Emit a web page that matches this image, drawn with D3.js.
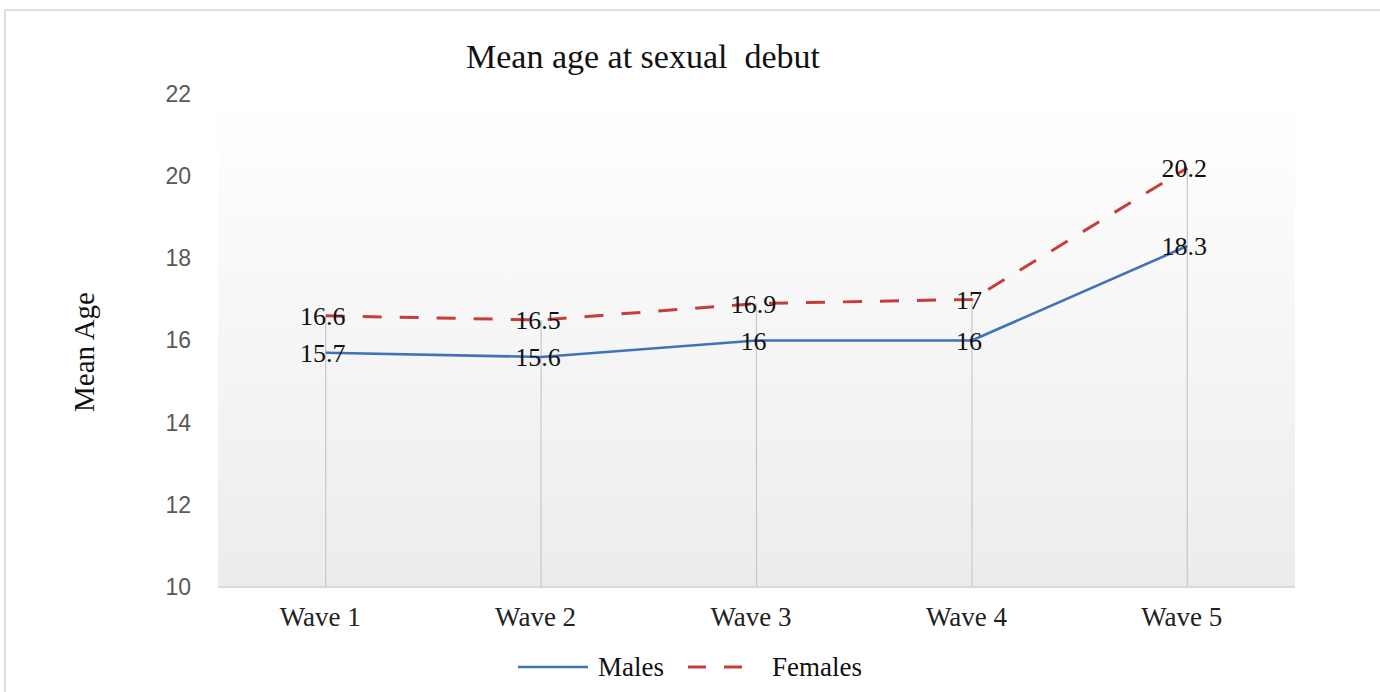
<!DOCTYPE html>
<html>
<head>
<meta charset="utf-8">
<script src="https://cdn.jsdelivr.net/npm/d3@7"></script>
<style>
  body { margin: 0; background: #fff; }
  svg { display: block; }
</style>
</head>
<body>
<div id="container"></div>
<script>
const waves = ['Wave 1', 'Wave 2', 'Wave 3', 'Wave 4', 'Wave 5'];
const males = [15.7, 15.6, 16, 16, 18.3];
const females = [16.6, 16.5, 16.9, 17, 20.2];
const yTicks = [10, 12, 14, 16, 18, 20, 22];

const width = 1380;
const height = 692;
const serif = '"Liberation Serif", "DejaVu Serif", serif';

const svg = d3.select('#container')
              .append('svg')
              .attr('width', width)
              .attr('height', height);

// outer frame
svg.append('rect')
   .attr('x', 5).attr('y', 10)
   .attr('width', width).attr('height', height)
   .attr('fill', 'none')
   .attr('stroke', '#d4d4d4')
   .attr('stroke-width', 1.5);

const xScale = d3.scalePoint()
                 .domain(waves)
                 .range([218, 1295])
                 .padding(0.5);

const yScale = d3.scaleLinear()
                 .domain([10, 22])
                 .range([587, 94]);

// plot background gradient
const grad = svg.append('defs').append('linearGradient')
                .attr('id', 'bg')
                .attr('x1', 0).attr('y1', 0).attr('x2', 0).attr('y2', 1);
grad.append('stop').attr('offset', '0%').attr('stop-color', '#ffffff');
grad.append('stop').attr('offset', '100%').attr('stop-color', '#ececec');

svg.append('rect')
   .attr('x', 218)
   .attr('y', yScale(22))
   .attr('width', 1295 - 218)
   .attr('height', yScale(10) - yScale(22))
   .attr('fill', 'url(#bg)');

// title
svg.append('text')
   .attr('x', 643)
   .attr('y', 68)
   .attr('text-anchor', 'middle')
   .style('font-family', serif)
   .style('font-size', '34px')
   .attr('fill', '#111')
   .attr('xml:space', 'preserve')
   .text('Mean age at sexual  debut');

// y label
svg.append('text')
   .attr('transform', 'translate(94,352) rotate(-90)')
   .attr('text-anchor', 'middle')
   .style('font-family', serif)
   .style('font-size', '29px')
   .attr('fill', '#111')
   .text('Mean Age');

// y axis (labels only)
const yAxis = d3.axisLeft(yScale).tickValues(yTicks).tickSize(0).tickPadding(0);
const gy = svg.append('g')
              .attr('transform', 'translate(191,0)')
              .call(yAxis);
gy.select('.domain').remove();
gy.selectAll('text')
  .style('font-family', '"Liberation Sans", Arial, sans-serif')
  .style('font-size', '23px')
  .attr('fill', '#595959');

// drop lines
svg.append('g')
   .selectAll('line')
   .data(waves)
   .enter()
   .append('line')
   .attr('x1', d => xScale(d))
   .attr('x2', d => xScale(d))
   .attr('y1', (d, i) => yScale(Math.max(males[i], females[i])))
   .attr('y2', yScale(10))
   .attr('stroke', '#c8c8c8')
   .attr('stroke-width', 1.2);

// x axis
const xAxis = d3.axisBottom(xScale).tickSize(0).tickPadding(20);
const gx = svg.append('g')
              .attr('transform', `translate(0,${yScale(10)})`)
              .call(xAxis);
gx.select('.domain').attr('stroke', '#d0d0d0').attr('stroke-width', 1.5)
  .attr('d', `M218,0H1295`);
gx.selectAll('text')
  .attr('dx', -6)
  .style('font-family', serif)
  .style('font-size', '27px')
  .attr('fill', '#222');

const line = d3.line()
               .x((d, i) => xScale(waves[i]))
               .y(d => yScale(d));

svg.append('path')
   .datum(males)
   .attr('d', line)
   .attr('fill', 'none')
   .attr('stroke', '#3f72b8')
   .attr('stroke-width', 2.6);

svg.append('path')
   .datum(females)
   .attr('d', line)
   .attr('fill', 'none')
   .attr('stroke', '#c43e3a')
   .attr('stroke-width', 3)
   .attr('stroke-dasharray', '19,18');

// data labels
const addLabels = (values) => {
  svg.append('g')
     .selectAll('text')
     .data(values)
     .enter()
     .append('text')
     .attr('x', (d, i) => xScale(waves[i]) - 3)
     .attr('y', d => yScale(d))
     .attr('dy', '0.35em')
     .attr('text-anchor', 'middle')
     .style('font-family', serif)
     .style('font-size', '26px')
     .attr('fill', '#111')
     .text(d => d);
};
addLabels(males);
addLabels(females);

// legend
const legend = svg.append('g').attr('transform', 'translate(0,667)');
legend.append('line')
      .attr('x1', 518).attr('x2', 588)
      .attr('stroke', '#3f72b8').attr('stroke-width', 2.6);
legend.append('text')
      .attr('x', 598).attr('dy', '0.35em')
      .style('font-family', serif).style('font-size', '27px')
      .attr('fill', '#111')
      .text('Males');
legend.append('line')
      .attr('x1', 688).attr('x2', 742)
      .attr('stroke', '#c43e3a').attr('stroke-width', 3)
      .attr('stroke-dasharray', '18,18');
legend.append('text')
      .attr('x', 772).attr('dy', '0.35em')
      .style('font-family', serif).style('font-size', '27px')
      .attr('fill', '#111')
      .text('Females');
</script>
</body>
</html>
